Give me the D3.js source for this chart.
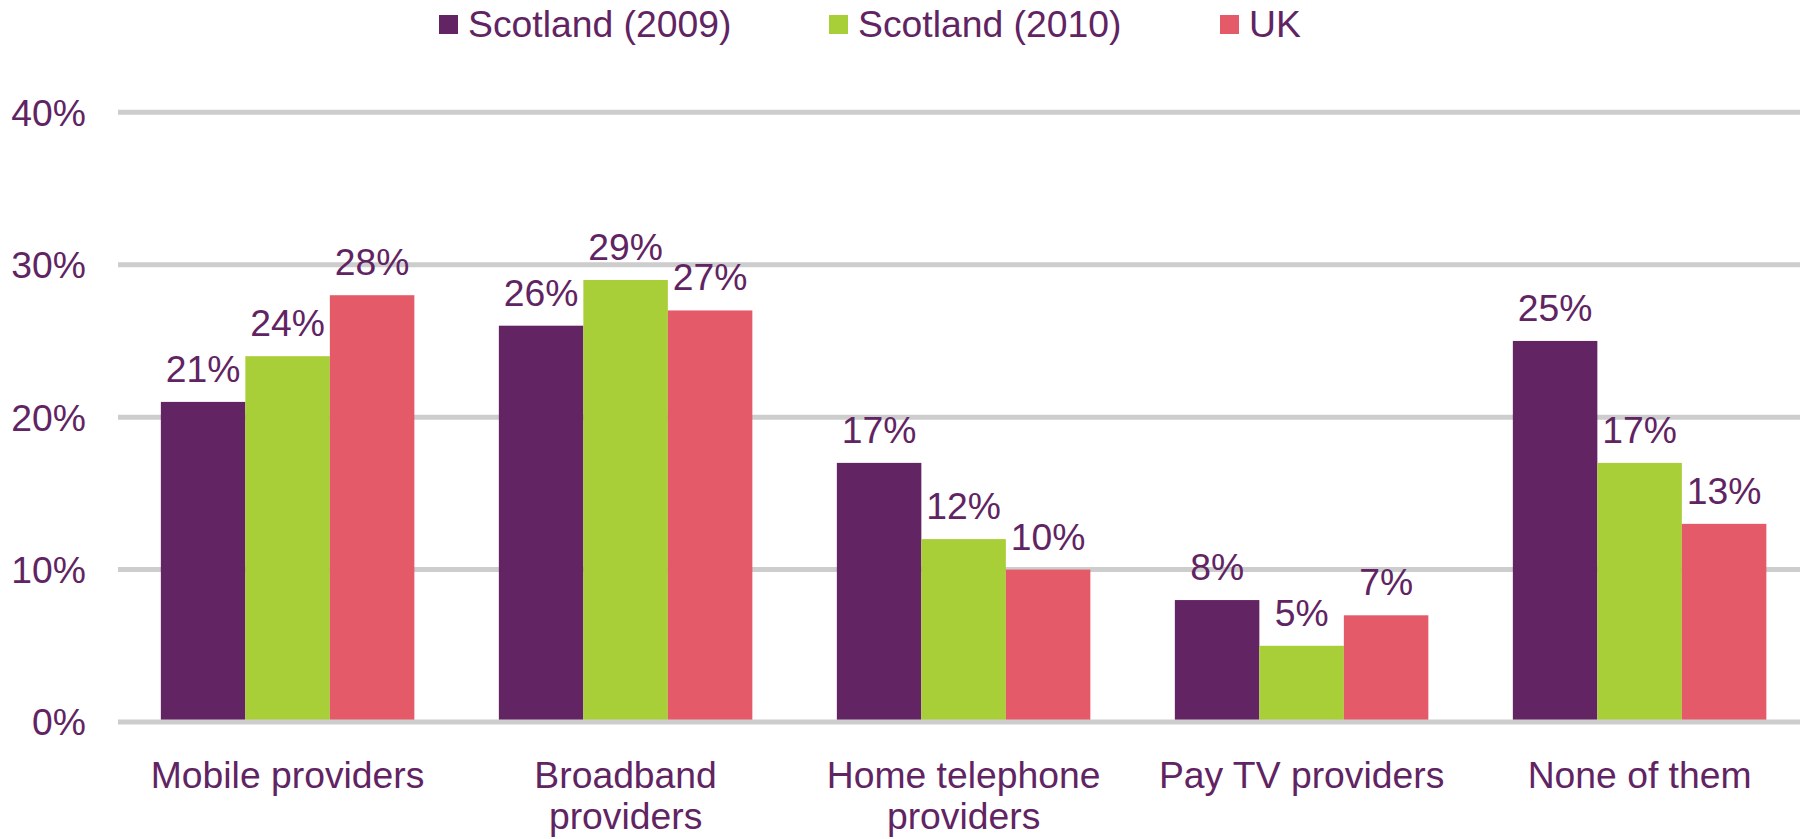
<!DOCTYPE html>
<html>
<head>
<meta charset="utf-8">
<script src="https://cdn.jsdelivr.net/npm/d3@7"></script>
<style>
  html, body { margin: 0; padding: 0; background: #ffffff; }
  svg { display: block; }
  text { font-family: "Liberation Sans", Arial, sans-serif; fill: #612463; }
</style>
</head>
<body>
<svg id="chart" width="1800" height="839"></svg>
<script>
// Share of respondents who switched / considered switching, by provider type
const categories = ["Mobile providers", "Broadband providers", "Home telephone providers", "Pay TV providers", "None of them"];
const seriesNames = ["Scotland (2009)", "Scotland (2010)", "UK"];
const scotland2009 = [21, 26, 17, 8, 25];
const scotland2010 = [24, 29, 12, 5, 17];
const uk = [28, 27, 10, 7, 13];
const yTicks = [0, 10, 20, 30, 40];
const colors = ["#622462", "#a9cf38", "#e55a69"];

const seriesValues = [scotland2009, scotland2010, uk];
const rows = categories.map((c, i) => ({
  category: c,
  values: seriesNames.map((s, j) => ({ series: s, value: seriesValues[j][i], color: colors[j] }))
}));

const svg = d3.select("#chart");
const fontSize = 37.3;

const x0 = d3.scaleBand()
  .domain(categories)
  .range([118.6, 1808.6])
  .paddingInner(0.25)
  .paddingOuter(0.125);

const x1 = d3.scaleBand()
  .domain(seriesNames)
  .range([0, x0.bandwidth()]);

const y = d3.scaleLinear()
  .domain([0, 40])
  .range([722, 112.3]);

// Horizontal gridlines
svg.append("g")
  .selectAll("line")
  .data(yTicks.filter(t => t !== 0))
  .join("line")
  .attr("x1", 118)
  .attr("x2", 1800)
  .attr("y1", d => y(d))
  .attr("y2", d => y(d))
  .attr("stroke", "#cdcdcd")
  .attr("stroke-width", 5);

// Y tick labels
svg.append("g")
  .selectAll("text")
  .data(yTicks)
  .join("text")
  .attr("x", 86)
  .attr("y", d => y(d))
  .attr("dy", "0.36em")
  .attr("text-anchor", "end")
  .style("font-size", fontSize + "px")
  .text(d => d + "%");

// Bars
const groups = svg.append("g")
  .selectAll("g")
  .data(rows)
  .join("g")
  .attr("transform", d => `translate(${x0(d.category)},0)`);

groups.selectAll("rect")
  .data(d => d.values)
  .join("rect")
  .attr("x", d => x1(d.series))
  .attr("width", x1.bandwidth())
  .attr("y", d => y(d.value))
  .attr("height", d => y(0) - y(d.value))
  .attr("fill", d => d.color);

// Value labels
groups.selectAll("text")
  .data(d => d.values)
  .join("text")
  .attr("x", d => x1(d.series) + x1.bandwidth() / 2)
  .attr("y", d => y(d.value) - 20)
  .attr("text-anchor", "middle")
  .style("font-size", fontSize + "px")
  .text(d => d.value + "%");

// Baseline
svg.append("line")
  .attr("x1", 118)
  .attr("x2", 1800)
  .attr("y1", y(0))
  .attr("y2", y(0))
  .attr("stroke", "#cdcdcd")
  .attr("stroke-width", 5);

// Category labels, wrapped to fit the band
const maxWidth = 300;
const lineHeight = 41;
const catLabels = svg.append("g")
  .selectAll("text")
  .data(categories)
  .join("text")
  .attr("x", d => x0(d) + x0.bandwidth() / 2)
  .attr("y", 788)
  .attr("text-anchor", "middle")
  .style("font-size", fontSize + "px");

catLabels.each(function (d) {
  const el = d3.select(this);
  const words = d.split(" ");
  let line = [];
  let tspan = el.append("tspan").attr("x", el.attr("x")).attr("dy", 0);
  words.forEach(w => {
    line.push(w);
    tspan.text(line.join(" "));
    if (tspan.node().getComputedTextLength() > maxWidth && line.length > 1) {
      line.pop();
      tspan.text(line.join(" "));
      line = [w];
      tspan = el.append("tspan").attr("x", el.attr("x")).attr("dy", lineHeight).text(w);
    }
  });
});

// Legend
const legendX = [439, 829, 1220];
const legend = svg.append("g")
  .selectAll("g")
  .data(seriesNames)
  .join("g")
  .attr("transform", (d, i) => `translate(${legendX[i]},0)`);

legend.append("rect")
  .attr("x", 0)
  .attr("y", 15)
  .attr("width", 19)
  .attr("height", 19)
  .attr("fill", (d, i) => colors[i]);

legend.append("text")
  .attr("x", 29)
  .attr("y", 37)
  .style("font-size", fontSize + "px")
  .text(d => d);
</script>
</body>
</html>
